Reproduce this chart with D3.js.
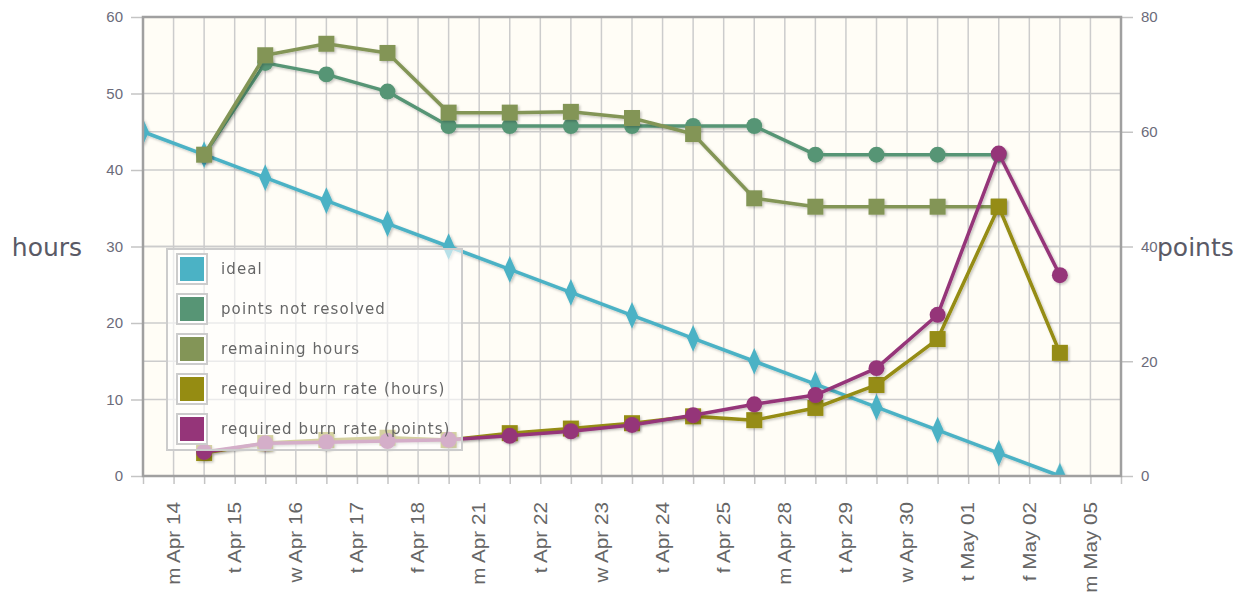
<!DOCTYPE html>
<html>
<head>
<meta charset="utf-8">
<script src="https://cdn.jsdelivr.net/npm/d3@7"></script>
<style>
  body { margin: 0; background: #ffffff; }
  svg { display: block; }
</style>
</head>
<body>
<div id="chart"></div>
<script>
// day labels, one per sprint day
var dayLabels = ["m Apr 14", "t Apr 15", "w Apr 16", "t Apr 17", "f Apr 18",
                 "m Apr 21", "t Apr 22", "w Apr 23", "t Apr 24", "f Apr 25",
                 "m Apr 28", "t Apr 29", "w Apr 30", "t May 01", "f May 02", "m May 05"];

// hours (left axis)
var idealHours = [45, 42, 39, 36, 33, 30, 27, 24, 21, 18, 15, 12, 9, 6, 3, 0];
var remainingHours = [null, 42, 55, 56.5, 55.3, 47.5, 47.5, 47.6, 46.8, 44.7, 36.3, 35.2, 35.2, 35.2, 35.2, null];
var burnRateHours = [null, 3.0, 4.3, 4.7, 5.0, 4.7, 5.6, 6.2, 6.9, 7.8, 7.3, 8.9, 11.9, 17.9, 35.2, 16.1];

// points (right axis)
var pointsNotResolved = [null, 56, 72, 70, 67, 61, 61, 61, 61, 61, 61, 56, 56, 56, 56, null];
var burnRatePoints = [null, 4.2, 5.7, 5.9, 6.1, 6.3, 7.0, 7.8, 8.9, 10.6, 12.5, 14.1, 18.8, 28.1, 56.2, 35.0];

var hourTicks = [0, 10, 20, 30, 40, 50, 60];
var pointTicks = [0, 20, 40, 60, 80];

var series = [
    {name: "ideal", values: idealHours, axis: "h", color: "#4bb2c5", marker: "diamond"},
    {name: "points not resolved", values: pointsNotResolved, axis: "p", color: "#579575", marker: "circle"},
    {name: "remaining hours", values: remainingHours, axis: "h", color: "#839557", marker: "square"},
    {name: "required burn rate (hours)", values: burnRateHours, axis: "h", color: "#958c12", marker: "square"},
    {name: "required burn rate (points)", values: burnRatePoints, axis: "p", color: "#953579", marker: "circle"}
];

var W = 1251, H = 594;
var plot = {left: 143, top: 17, right: 1121, bottom: 476};

var svg = d3.select("#chart").append("svg")
    .attr("width", W)
    .attr("height", H);

var defs = svg.append("defs");
var shadow = defs.append("filter").attr("id", "shadow")
    .attr("x", "-20%").attr("y", "-20%").attr("width", "140%").attr("height", "140%");
shadow.append("feDropShadow")
    .attr("dx", 1.5).attr("dy", 1.5)
    .attr("stdDeviation", 1)
    .attr("flood-color", "#000")
    .attr("flood-opacity", 0.22);

defs.append("clipPath").attr("id", "plotClip")
    .append("rect")
    .attr("x", plot.left).attr("y", plot.top)
    .attr("width", plot.right - plot.left)
    .attr("height", plot.bottom - plot.top);

var x = d3.scaleLinear().domain([0, dayLabels.length]).range([plot.left, plot.right]);
var yH = d3.scaleLinear().domain([0, 60]).range([plot.bottom, plot.top]);
var yP = d3.scaleLinear().domain([0, 80]).range([plot.bottom, plot.top]);

// background
svg.append("rect")
    .attr("x", plot.left).attr("y", plot.top)
    .attr("width", plot.right - plot.left)
    .attr("height", plot.bottom - plot.top)
    .attr("fill", "#fffdf6");

// grid
var halfSteps = d3.range(0, dayLabels.length + 0.5, 0.5);
var grid = svg.append("g").attr("stroke", "#cccccc").attr("stroke-width", 1.5);
grid.selectAll("line.v")
    .data(halfSteps)
    .enter().append("line")
    .attr("class", "v")
    .attr("x1", function(d) { return x(d); })
    .attr("x2", function(d) { return x(d); })
    .attr("y1", plot.top).attr("y2", plot.bottom);
grid.selectAll("line.hh")
    .data(hourTicks)
    .enter().append("line")
    .attr("class", "hh")
    .attr("x1", plot.left).attr("x2", plot.right)
    .attr("y1", function(d) { return yH(d); })
    .attr("y2", function(d) { return yH(d); });
grid.selectAll("line.hp")
    .data(pointTicks)
    .enter().append("line")
    .attr("class", "hp")
    .attr("x1", plot.left).attr("x2", plot.right)
    .attr("y1", function(d) { return yP(d); })
    .attr("y2", function(d) { return yP(d); });

// axes
function styleAxis(g) {
    g.select(".domain").remove();
    g.selectAll(".tick line").attr("stroke", "#c4c4c4").attr("stroke-width", 1.5);
    g.selectAll(".tick text")
        .attr("fill", "#6b6b7a")
        .style("font-family", "'Liberation Sans', Arial, sans-serif")
        .style("font-size", "15px");
}

svg.append("g")
    .attr("transform", "translate(" + plot.left + ",0)")
    .call(d3.axisLeft(yH).tickValues(hourTicks).tickSize(12).tickPadding(8))
    .call(styleAxis);

svg.append("g")
    .attr("transform", "translate(" + plot.right + ",0)")
    .call(d3.axisRight(yP).tickValues(pointTicks).tickSize(12).tickPadding(8))
    .call(styleAxis);

svg.append("g")
    .attr("transform", "translate(0," + plot.bottom + ")")
    .call(d3.axisBottom(x).tickValues(halfSteps).tickSize(8).tickFormat(""))
    .call(styleAxis);

// rotated day labels, centred between the data columns
svg.append("g").selectAll("text")
    .data(dayLabels)
    .enter().append("text")
    .attr("transform", function(d, i) {
        return "translate(" + x(i + 0.5) + ",502) rotate(-90) scale(1.15,1)";
    })
    .attr("dy", "0.35em")
    .attr("text-anchor", "end")
    .attr("fill", "#666666")
    .style("font-family", "'Liberation Sans', Arial, sans-serif")
    .style("font-size", "18px")
    .text(function(d) { return d; });

// axis titles
svg.append("text")
    .attr("x", 47).attr("y", 256)
    .attr("text-anchor", "middle")
    .attr("fill", "#5a5a66")
    .style("font-family", "'DejaVu Sans', sans-serif")
    .style("font-size", "25px")
    .text("hours");

svg.append("text")
    .attr("x", 1157).attr("y", 256)
    .attr("fill", "#5a5a66")
    .style("font-family", "'DejaVu Sans', sans-serif")
    .style("font-size", "25px")
    .text("points");

// series
var seriesLayer = svg.append("g").attr("clip-path", "url(#plotClip)");

var symbolFor = {
    diamond: d3.symbol().type(d3.symbolDiamond).size(170),
    circle: d3.symbol().type(d3.symbolCircle).size(200),
    square: d3.symbol().type(d3.symbolSquare).size(256)
};

series.forEach(function(s) {
    var yScale = s.axis === "h" ? yH : yP;
    var pts = [];
    s.values.forEach(function(v, i) {
        if (v !== null) pts.push({i: i, v: v});
    });

    var line = d3.line()
        .x(function(d) { return x(d.i); })
        .y(function(d) { return yScale(d.v); });

    var g = seriesLayer.append("g").attr("filter", "url(#shadow)");
    g.append("path")
        .datum(pts)
        .attr("d", line)
        .attr("fill", "none")
        .attr("stroke", s.color)
        .attr("stroke-width", 3.5)
        .attr("stroke-linejoin", "round");

    g.selectAll("path.marker")
        .data(pts)
        .enter().append("path")
        .attr("class", "marker")
        .attr("d", symbolFor[s.marker])
        .attr("transform", function(d) {
            var sc = s.marker === "diamond" ? " scale(0.85,1.1)" : "";
            return "translate(" + x(d.i) + "," + yScale(d.v) + ")" + sc;
        })
        .attr("fill", s.color);
});

// plot border
svg.append("rect")
    .attr("x", plot.left).attr("y", plot.top)
    .attr("width", plot.right - plot.left)
    .attr("height", plot.bottom - plot.top)
    .attr("fill", "none")
    .attr("stroke", "#a0a0a0")
    .attr("stroke-width", 2.5);

// legend
var legend = svg.append("g").attr("transform", "translate(167,249)");
legend.append("rect")
    .attr("width", 295).attr("height", 201)
    .attr("fill", "#ffffff").attr("fill-opacity", 0.6)
    .attr("stroke", "#cccccc").attr("stroke-width", 2);

var rows = legend.selectAll("g.row")
    .data(series)
    .enter().append("g")
    .attr("class", "row")
    .attr("transform", function(d, i) { return "translate(0," + (20 + i * 40) + ")"; });

rows.append("rect")
    .attr("x", 10).attr("y", -15)
    .attr("width", 30).attr("height", 30)
    .attr("fill", "#ffffff")
    .attr("stroke", "#cccccc").attr("stroke-width", 2);
rows.append("rect")
    .attr("x", 13).attr("y", -12)
    .attr("width", 24).attr("height", 24)
    .attr("fill", function(d) { return d.color; });
rows.append("text")
    .attr("x", 54).attr("y", 5)
    .attr("fill", "#666666")
    .style("font-family", "'DejaVu Sans', sans-serif")
    .style("font-size", "15px")
    .style("letter-spacing", "1.1px")
    .text(function(d) { return d.name; });
</script>
</body>
</html>
